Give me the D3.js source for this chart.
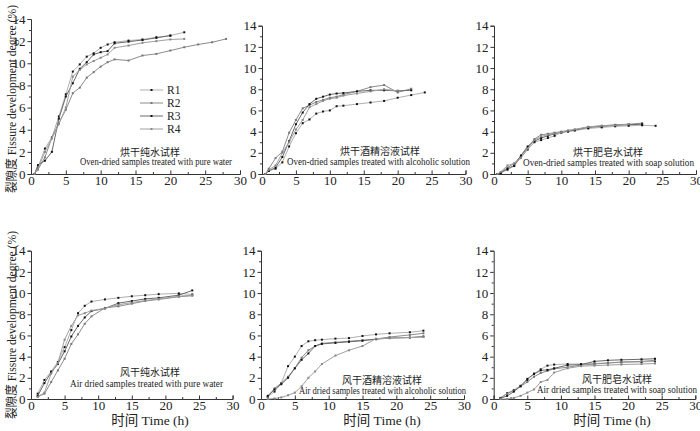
<!DOCTYPE html>
<html><head><meta charset="utf-8">
<script src="https://cdn.jsdelivr.net/npm/d3@7"></script>
<style>
body{margin:0;background:#fff;}
text{font-family:"Liberation Serif","Times New Roman","Noto Sans CJK SC",serif;fill:#222;}
</style></head>
<body><svg id="c" width="700" height="431"></svg>
<script>
// ---- data ----
const seriesNames = ["R1","R2","R3","R4"];
const xTicks = [0,5,10,15,20,25,30];
const yTicks = [0,2,4,6,8,10,12,14];

const tOven20 = [0.5,1,2,3,4,5,6,7,8,9,10,11,12,14,16,18,20];
const tOven22 = [0.5,1,2,3,4,5,6,7,8,9,10,11,12,14,16,18,20,22];
const tOven24 = [0.5,1,2,3,4,5,6,7,8,9,10,11,12,14,16,18,20,22,24];
const tOven28 = [0.5,1,2,3,4,5,6,7,8,9,10,11,12,14,16,18,20,22,24,26,28];
const tAir = [1,2,3,4,5,6,7,8,9,11,13,15,17,19,22,24];

// Oven-dried, pure water
const ovenWaterR1 = [0,0.6,2.3,3.3,5.2,7.2,9.25,9.9,10.6,10.9,11.4,11.7,11.9,12.05,12.15,12.35,12.5,12.8];
const ovenWaterR2 = [0,0.4,1.5,3.3,4.6,5.8,7.3,7.8,8.7,9.2,9.7,10.1,10.35,10.25,10.7,10.85,11.15,11.45,11.7,11.9,12.2];
const ovenWaterR3 = [0,0.8,1.2,2.0,5.0,7.0,8.2,9.5,10.1,10.8,11.0,11.1,11.8,11.95,12.1,12.3,12.5];
const ovenWaterR4 = [0,0.5,2.0,3.2,4.5,6.0,8.8,9.4,9.9,10.2,10.5,10.8,11.4,11.6,11.85,12.0,12.15,12.2];
// Oven-dried, alcoholic solution
const ovenAlcR1 = [0,0.3,0.5,1.1,2.6,3.85,4.8,5.15,5.7,5.9,6.0,6.4,6.45,6.6,6.75,6.9,7.2,7.45,7.7];
const ovenAlcR2 = [0,0.5,1.5,2.1,3.9,5.1,6.2,6.5,6.8,7.0,7.2,7.3,7.5,7.8,8.2,8.4,7.7,8.05];
const ovenAlcR3 = [0,0.3,0.6,1.6,3.1,4.7,5.8,6.6,7.1,7.3,7.5,7.6,7.65,7.8,7.9,7.9,7.85,7.9];
const ovenAlcR4 = [0,0.4,0.8,2.0,3.0,4.2,5.1,6.3,6.6,6.9,7.1,7.2,7.4,7.6,7.8,8.0,7.85];
// Oven-dried, soap solution
const ovenSoapR1 = [0,0.1,0.4,0.75,1.6,2.3,3.0,3.2,3.4,3.6,3.9,4.0,4.1,4.3,4.4,4.5,4.55,4.6,4.55];
const ovenSoapR2 = [0,0.15,0.6,1.0,1.7,2.5,3.3,3.7,3.8,3.9,4.0,4.1,4.2,4.45,4.55,4.65,4.7,4.8];
const ovenSoapR3 = [0,0.1,0.5,0.8,1.75,2.6,3.1,3.4,3.6,3.8,3.95,4.05,4.15,4.4,4.5,4.6,4.65,4.7];
const ovenSoapR4 = [0,0.2,0.8,1.0,1.5,2.4,3.2,3.55,3.7,3.85,3.95,4.1,4.2,4.45,4.55,4.6,4.7];
// Air-dried, pure water
const airWaterR1 = [0.5,1.8,2.6,3.5,4.9,6.5,8.1,8.8,9.2,9.4,9.55,9.7,9.8,9.9,9.97,9.87];
const airWaterR2 = [0.2,0.5,1.6,2.7,3.8,5.2,6.1,7.1,7.8,8.6,8.75,9.0,9.25,9.4,9.65,9.75];
const airWaterR3 = [0.3,1.5,2.5,3.3,4.5,5.9,6.9,7.7,8.3,8.55,9.05,9.25,9.45,9.55,9.8,10.25];
const airWaterR4 = [0.2,0.6,2.4,3.4,5.6,6.9,7.9,8.1,8.35,8.55,8.9,9.1,9.3,9.45,9.7,9.8];
// Air-dried, alcoholic solution
const airAlcR1 = [0.2,0.7,1.5,3.1,4.0,5.0,5.45,5.55,5.6,5.7,5.75,5.95,6.1,6.2,6.3,6.45];
const airAlcR2 = [0.2,1.0,1.5,2.1,2.9,3.9,4.6,5.0,5.25,5.35,5.45,5.55,5.65,5.85,6.05,6.2];
const airAlcR3 = [0.3,0.9,1.4,2.0,2.9,3.7,4.3,5.0,5.2,5.3,5.4,5.5,5.65,5.75,5.8,5.9];
const airAlcR4 = [0.0,0.05,0.15,0.35,0.6,1.2,2.0,2.6,3.3,4.1,4.6,5.0,5.7,5.75,5.8,5.85];
// Air-dried, soap solution
const airSoapR1 = [0.1,0.55,0.85,1.25,1.8,2.4,2.8,3.15,3.25,3.3,3.3,3.35,3.4,3.45,3.5,3.55];
const airSoapR2 = [0.1,0.5,0.8,1.2,1.6,2.1,2.45,2.65,2.85,3.0,3.2,3.3,3.4,3.5,3.55,3.65];
const airSoapR3 = [0.05,0.3,0.7,1.2,1.9,2.35,2.7,2.75,2.9,3.2,3.25,3.55,3.65,3.7,3.75,3.8];
const airSoapR4 = [0.0,0.0,0.1,0.3,0.6,0.9,1.6,1.8,2.5,2.9,3.1,3.15,3.2,3.25,3.3,3.35];

const titlesZh = ["烘干纯水试样","烘干酒精溶液试样","烘干肥皂水试样","风干纯水试样","风干酒精溶液试样","风干肥皂水试样"];
const titlesEn = ["Oven-dried samples treated with pure water","Oven-dried samples treated with alcoholic solution","Oven-dried samples treated with soap solution","Air dried samples treated with pure water","Air dried samples treated with alcoholic solution","Air dried samples treated with soap solution"];
const yTitle = "裂隙度 Fissure development degree (%)";
const xTitle = "时间 Time (h)";

// ---- panel data assembly ----
const panelSeries = [
  [[tOven22,ovenWaterR1],[tOven28,ovenWaterR2],[tOven20,ovenWaterR3],[tOven22,ovenWaterR4]],
  [[tOven24,ovenAlcR1],[tOven22,ovenAlcR2],[tOven22,ovenAlcR3],[tOven20,ovenAlcR4]],
  [[tOven24,ovenSoapR1],[tOven22,ovenSoapR2],[tOven22,ovenSoapR3],[tOven20,ovenSoapR4]],
  [[tAir,airWaterR1],[tAir,airWaterR2],[tAir,airWaterR3],[tAir,airWaterR4]],
  [[tAir,airAlcR1],[tAir,airAlcR2],[tAir,airAlcR3],[tAir,airAlcR4]],
  [[tAir,airSoapR1],[tAir,airSoapR2],[tAir,airSoapR3],[tAir,airSoapR4]]
];

// ---- layout (pixels) ----
const layout = [
  {x0:31, x1:240, yt:19, yb:174, zh:[150,156], en:[80,165,152], yLab:99},
  {x0:262,x1:465.5,yt:25.7,yb:174, zh:[380,155], en:[287,165,183]},
  {x0:494,x1:696,yt:25.7,yb:174, zh:[608,156], en:[523,166,171]},
  {x0:31, x1:232.6,yt:250.7,yb:399, zh:[150,376], en:[70,387,153], yLab:325, xt:150},
  {x0:261,x1:464,yt:250.7,yb:399, zh:[382,384], en:[299,394,167], xt:382},
  {x0:493.7,x1:695.3,yt:250.7,yb:399, zh:[617,383], en:[537,393,160], xt:612}
];
const lineColors = ["#b0b0b0","#8c8c8c","#6a6a6a","#a0a0a0"];
const markerFill = ["#111","#777","#111","#888"];

const svg = d3.select("#c");

layout.forEach((L,i)=>{
  const x = d3.scaleLinear().domain([0,30]).range([L.x0,L.x1]);
  const y = d3.scaleLinear().domain([0,14]).range([L.yb,L.yt]);
  const g = svg.append("g");

  // x axis: ticks inward (up)
  g.append("g").attr("transform",`translate(0,${L.yb})`)
    .call(d3.axisBottom(x).tickValues(xTicks).tickSize(-3.5).tickPadding(1.5).tickFormat(d3.format("d")));
  g.append("g").attr("transform",`translate(0,${L.yb})`)
    .call(d3.axisBottom(x).tickValues(d3.range(2.5,30,5)).tickSize(-2).tickFormat(""))
    .call(s=>s.select(".domain").remove());
  // y axis: ticks outward (left)
  g.append("g").attr("transform",`translate(${L.x0},0)`)
    .call(d3.axisLeft(y).tickValues(yTicks).tickSize(3.5).tickPadding(2).tickFormat(d3.format("d")));
  g.append("g").attr("transform",`translate(${L.x0},0)`)
    .call(d3.axisLeft(y).tickValues(d3.range(1,14,2)).tickSize(2).tickFormat(""))
    .call(s=>s.select(".domain").remove());
  g.selectAll(".domain").attr("stroke","#333").attr("stroke-width",1);
  g.selectAll(".tick line").attr("stroke","#333");
  g.selectAll(".tick text").attr("font-size",13).attr("fill","#222")
    .attr("font-family",'"Liberation Serif","Times New Roman",serif');

  // series
  const line = d3.line().x(d=>x(d[0])).y(d=>y(d[1]));
  panelSeries[i].forEach((s,k)=>{
    const pts = s[0].map((t,j)=>[t,s[1][j]]);
    g.append("path").datum(pts).attr("d",line).attr("fill","none")
      .attr("stroke",lineColors[k]).attr("stroke-width",1);
    g.selectAll(null).data(pts).enter().append("rect")
      .attr("x",d=>x(d[0])-1).attr("y",d=>y(d[1])-1)
      .attr("width",2).attr("height",2).attr("fill",markerFill[k]);
  });

  // panel titles
  g.append("text").attr("x",L.zh[0]).attr("y",L.zh[1]).attr("text-anchor","middle")
    .attr("font-size",10).attr("font-family",'"Noto Sans CJK SC",serif').text(titlesZh[i]);
  g.append("text").attr("x",L.en[0]).attr("y",L.en[1])
    .attr("font-size",9.5).attr("textLength",L.en[2]).attr("lengthAdjust","spacingAndGlyphs")
    .text(titlesEn[i]);

  if(L.yLab!==undefined){
    g.append("text").attr("transform",`translate(16,${L.yLab}) rotate(-90)`)
      .attr("text-anchor","middle").attr("font-size",12.5)
      .attr("textLength",188).attr("lengthAdjust","spacingAndGlyphs").text(yTitle);
  }
  if(L.xt!==undefined){
    g.append("text").attr("x",L.xt).attr("y",425).attr("text-anchor","middle")
      .attr("font-size",13.5).text(xTitle);
  }
});

// legend in first panel
const leg = svg.append("g");
seriesNames.forEach((n,k)=>{
  const yy = 90 + k*13;
  leg.append("line").attr("x1",140).attr("x2",163).attr("y1",yy).attr("y2",yy)
    .attr("stroke",lineColors[k]).attr("stroke-width",1);
  leg.append("rect").attr("x",150.5).attr("y",yy-1).attr("width",2).attr("height",2).attr("fill",markerFill[k]);
  leg.append("text").attr("x",167).attr("y",yy+4).attr("font-size",11.5).text(n);
});
</script></body></html>
